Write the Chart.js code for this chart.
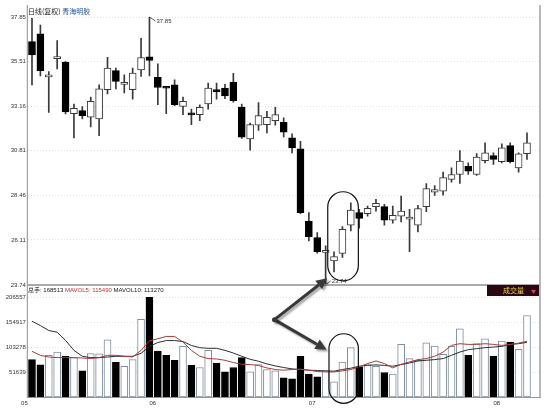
<!DOCTYPE html>
<html>
<head>
<meta charset="utf-8">
<script src="https://cdn.jsdelivr.net/npm/chart.js@4.4.1/dist/chart.umd.min.js"></script>
<style>
  body { margin: 0; background: #fff; }
  #wrap { position: relative; width: 551px; height: 412px; overflow: hidden; font-family: "Liberation Sans", "Noto Sans CJK SC", sans-serif; }
  canvas { position: absolute; left: 0; top: 0; }
  .t { position: absolute; white-space: nowrap; font-size: 6px; line-height: 8px; color: #222; }
  #volBox { position: absolute; left: 487px; top: 285px; width: 52px; height: 11px; background: #2b0810; }
  #volBox span { position: absolute; top: 1px; font-family: "Noto Sans CJK SC", sans-serif; line-height: 9px; }
</style>
</head>
<body>
<div id="wrap">
  <canvas id="priceChart" width="551" height="412"></canvas>
  <canvas id="volChart" width="551" height="412"></canvas>
  <div class="t" style="left:28px;top:7px;font-size:7px;font-family:'Noto Sans CJK SC',sans-serif">日线(复权) <span style="color:#2a55a0">青海明胶</span></div>
  <div class="t" id="volTitle" style="left:28px;top:286px"></div>
  <div id="volBox"><span style="left:16px;color:#f2d640;font-size:7px">成交量</span><span style="left:44px;color:#e0405a;font-size:5px">▼</span></div>
</div>
<script>
// 日K线 (60 个交易日)
const openP  = [36.55,36.96,34.70,35.66,35.47,32.76,32.92,32.57,32.48,34.02,35.03,34.30,34.02,35.07,35.75,34.67,34.14,34.28,33.14,32.73,32.71,33.27,33.95,34.11,34.42,33.11,31.43,32.15,32.18,32.39,32.31,31.49,30.91,27.11,26.24,25.46,25.01,25.40,26.89,27.55,27.50,27.87,27.87,27.15,27.37,27.20,26.89,27.87,28.63,28.68,29.30,29.56,29.99,29.56,30.29,30.56,30.23,31.08,29.91,30.66];
const highP  = [37.78,37.43,34.98,36.61,35.50,33.27,33.14,33.64,34.28,35.73,35.16,34.81,35.16,36.73,37.85,35.38,34.15,34.54,33.64,33.00,33.23,34.37,34.37,34.30,34.88,33.27,32.27,33.35,32.88,33.09,32.54,31.70,31.31,27.55,26.50,25.80,25.48,26.82,28.07,27.72,27.90,28.25,27.99,27.90,28.42,27.72,27.93,29.08,28.98,29.68,29.91,30.82,30.17,30.66,31.22,30.70,31.17,31.22,30.70,31.75];
const lowP   = [34.28,34.75,32.83,35.11,32.75,31.49,32.48,32.06,31.60,33.80,34.06,33.85,33.53,34.72,34.75,33.23,32.76,33.18,32.71,32.18,32.39,33.00,33.53,33.55,33.37,31.46,30.84,31.88,31.75,32.15,31.54,30.70,27.50,26.06,25.41,23.74,24.43,25.19,26.59,26.73,27.37,27.63,26.89,26.99,27.06,25.50,26.53,27.60,28.46,28.47,29.16,29.09,29.56,29.51,30.17,30.09,30.17,30.17,29.68,30.35];
const closeP = [35.85,35.02,34.77,35.77,32.85,33.04,32.66,33.41,34.07,35.16,34.46,34.34,34.90,35.71,35.56,34.14,34.10,33.23,33.41,32.70,33.09,34.11,33.92,33.70,33.44,31.52,32.18,32.66,32.57,32.71,31.78,30.96,27.55,26.29,25.50,25.50,25.24,26.67,27.69,27.25,27.78,28.04,27.15,27.41,27.63,27.32,27.76,28.81,28.77,29.39,29.56,30.26,29.73,30.47,30.70,30.35,30.96,30.23,30.65,31.22];

// 成交量 与 均量线
const volume  = [77900,66900,86700,93400,84700,82000,54700,90200,89500,118700,72400,64300,77900,160800,206557,95500,86700,76500,105000,66300,61600,96900,71000,52600,61600,82000,52600,67700,57500,54700,40400,38400,84700,47900,42400,54700,32200,73000,102400,62800,67700,64300,51400,47900,109100,80000,76500,112600,105700,88700,105000,141200,86700,110600,120800,85300,115900,113800,98900,168513];
const mavol5  = [94900,86700,83200,82000,82000,82000,81200,80000,82000,86700,86700,84700,83200,96900,116300,120800,125500,125500,113800,96900,84700,80000,79200,76500,71800,68300,67700,65700,60800,57500,56100,57500,58100,56100,53400,52600,52600,54700,57500,62800,69800,75100,69800,60800,68300,73000,77900,80000,84700,93400,107100,110600,109100,109100,110600,109100,107100,109100,111800,115490];
const mavol10 = [156700,147900,137700,134200,117300,96900,84700,82000,82000,83200,84700,84700,84700,90800,105000,113000,117000,117000,115000,107000,102400,101000,101000,96900,91400,84700,78500,74500,69000,64900,61600,58800,57500,56100,55500,54700,54100,57500,60200,64300,66000,67000,66000,64300,67700,71000,75100,76500,77900,80000,86700,93400,98300,100400,102400,103600,105100,109100,110600,113270];

// 坐标刻度
const priceTicks  = [23.74, 26.11, 28.46, 30.81, 33.16, 35.51, 37.85];
const volTicks    = [0, 51639, 103278, 154917, 206557];
const monthLabels = ['05', '06', '07', '08'];
const monthPos    = [-1.3, 14, 33, 55];

const isUp = openP.map((o, i) => closeP[i] >= o);
const tickFont = { size: 6, family: 'Liberation Sans' };
const gridColor = '#e2e2e2';

document.getElementById('volTitle').innerHTML =
  '总手: ' + volume[volume.length - 1] +
  ' <span style="color:#c0302c">MAVOL5: ' + mavol5[mavol5.length - 1] + '</span>' +
  ' MAVOL10: ' + mavol10[mavol10.length - 1];

function capsule(ctx, x0, x1, y0, y1) {
  const r = (x1 - x0) / 2;
  ctx.beginPath();
  ctx.moveTo(x0, y1 - r);
  ctx.lineTo(x0, y0 + r);
  ctx.arc(x0 + r, y0 + r, r, Math.PI, 0);
  ctx.lineTo(x1, y1 - r);
  ctx.arc(x0 + r, y1 - r, r, 0, Math.PI);
  ctx.closePath();
  ctx.stroke();
}

function arrow(ctx, x0, y0, x1, y1) {
  const a = Math.atan2(y1 - y0, x1 - x0);
  const len = 11, hw = 5.5;
  const bx = x1 - len * Math.cos(a), by = y1 - len * Math.sin(a);
  ctx.beginPath();
  ctx.moveTo(x0, y0);
  ctx.lineTo(bx, by);
  ctx.stroke();
  ctx.beginPath();
  ctx.moveTo(x1, y1);
  ctx.lineTo(bx + hw * Math.sin(a), by - hw * Math.cos(a));
  ctx.lineTo(bx - hw * Math.sin(a), by + hw * Math.cos(a));
  ctx.closePath();
  ctx.fill();
}

// 最高/最低价标注 + 价格区椭圆
const priceMarks = {
  id: 'priceMarks',
  afterDatasetsDraw(chart) {
    const { ctx, scales: { x, y } } = chart;
    const hi = Math.max(...highP), iHi = highP.indexOf(hi);
    const lo = Math.min(...lowP), iLo = lowP.indexOf(lo);
    ctx.save();
    ctx.strokeStyle = '#333';
    ctx.fillStyle = '#333';
    ctx.lineWidth = 0.8;
    ctx.font = '6px "Liberation Sans"';
    ctx.textBaseline = 'middle';
    let px = x.getPixelForValue(iHi), py = y.getPixelForValue(hi);
    ctx.beginPath(); ctx.moveTo(px, py); ctx.lineTo(px + 6, py + 4); ctx.stroke();
    ctx.fillText(hi.toFixed(2), px + 7, py + 4);
    px = x.getPixelForValue(iLo); py = y.getPixelForValue(lo);
    ctx.beginPath(); ctx.moveTo(px, py); ctx.lineTo(px + 5, py - 4); ctx.stroke();
    ctx.fillText(lo.toFixed(2), px + 6, py - 4);
    ctx.strokeStyle = '#111';
    ctx.lineWidth = 1.2;
    capsule(ctx, x.getPixelForValue(35.25), x.getPixelForValue(38.9), y.getPixelForValue(28.65), y.getPixelForValue(23.96));
    ctx.restore();
  }
};

// 边框、成交量区椭圆与箭头
const volMarks = {
  id: 'volMarks',
  afterDraw(chart) {
    const { ctx, chartArea, scales: { x, y } } = chart;
    const yp = priceChart.scales.y;
    const pArea = priceChart.chartArea;
    ctx.save();
    ctx.strokeStyle = '#8c8c8c';
    ctx.lineWidth = 1;
    ctx.beginPath(); ctx.moveTo(chartArea.left - 0.5, 5); ctx.lineTo(chartArea.left - 0.5, chartArea.bottom); ctx.stroke();
    ctx.strokeStyle = '#a0a0a0';
    ctx.lineWidth = 1.5;
    ctx.beginPath(); ctx.moveTo(chartArea.right, 5); ctx.lineTo(chartArea.right, chartArea.bottom); ctx.stroke();
    ctx.lineWidth = 2;
    ctx.strokeStyle = '#aaaaaa';
    ctx.beginPath(); ctx.moveTo(chartArea.left, pArea.bottom); ctx.lineTo(chartArea.right, pArea.bottom); ctx.stroke();

    ctx.strokeStyle = '#111';
    ctx.lineWidth = 1.2;
    capsule(ctx, x.getPixelForValue(35.4), x.getPixelForValue(38.9), y.getPixelForValue(131000), y.getPixelForValue(-12000));

    const ox = x.getPixelForValue(28.9), oy = y.getPixelForValue(160000);
    ctx.shadowColor = 'rgba(0,0,0,0.35)';
    ctx.shadowOffsetX = 2;
    ctx.shadowOffsetY = 2;
    ctx.shadowBlur = 2;
    ctx.strokeStyle = '#383838';
    ctx.fillStyle = '#383838';
    ctx.lineWidth = 3;
    arrow(ctx, ox, oy, x.getPixelForValue(35.2), yp.getPixelForValue(24.1));
    arrow(ctx, ox, oy, x.getPixelForValue(35.1), y.getPixelForValue(98000));
    ctx.beginPath(); ctx.arc(ox, oy, 2.5, 0, Math.PI * 2); ctx.fill();
    ctx.restore();
  }
};

const priceChart = new Chart(document.getElementById('priceChart'), {
  type: 'bar',
  data: {
    datasets: [
      {
        label: 'body',
        data: openP.map((o, i) => ({ x: i, y: [o, closeP[i]] })),
        backgroundColor: isUp.map(u => u ? '#ffffff' : '#000000'),
        borderColor: isUp.map(u => u ? '#3a3a3a' : '#000000'),
        borderWidth: 1,
        borderSkipped: false,
        barThickness: 7,
        minBarLength: 2,
        grouped: false
      },
      {
        label: 'wick',
        data: lowP.map((l, i) => ({ x: i, y: [l, highP[i]] })),
        backgroundColor: '#3a3a3a',
        borderWidth: 0,
        barThickness: 1,
        grouped: false
      }
    ]
  },
  options: {
    responsive: false,
    animation: false,
    devicePixelRatio: 1,
    layout: { padding: { top: 17, bottom: 127, left: 0, right: 11 } },
    plugins: { legend: { display: false }, tooltip: { enabled: false } },
    scales: {
      x: { type: 'linear', min: -0.5, max: 60.55, offset: false, display: false },
      y: {
        min: 23.74, max: 37.85,
        afterBuildTicks: s => { s.ticks = priceTicks.map(v => ({ value: v })); },
        afterFit: s => { s.width = 27.8; },
        ticks: { font: tickFont, color: '#333', padding: 2, callback: v => v.toFixed(2) },
        grid: { color: gridColor, drawTicks: false },
        border: { display: false, dash: [1, 2] }
      }
    }
  },
  plugins: [priceMarks]
});

const volChart = new Chart(document.getElementById('volChart'), {
  type: 'bar',
  data: {
    datasets: [
      {
        type: 'line', label: 'MAVOL5',
        data: mavol5.map((v, i) => ({ x: i, y: v })),
        borderColor: '#a83c3c', borderWidth: 1, pointRadius: 0, order: 0
      },
      {
        type: 'line', label: 'MAVOL10',
        data: mavol10.map((v, i) => ({ x: i, y: v })),
        borderColor: '#2e2e2e', borderWidth: 1, pointRadius: 0, order: 0
      },
      {
        label: '成交量',
        data: volume.map((v, i) => ({ x: i, y: v })),
        backgroundColor: isUp.map(u => u ? '#ffffff' : '#000000'),
        borderColor: isUp.map(u => u ? '#7f8e9c' : '#000000'),
        borderWidth: 1,
        borderSkipped: false,
        barThickness: 7,
        grouped: false,
        order: 1
      }
    ]
  },
  options: {
    responsive: false,
    animation: false,
    devicePixelRatio: 1,
    layout: { padding: { top: 297, bottom: 0, left: 0, right: 11 } },
    plugins: { legend: { display: false }, tooltip: { enabled: false } },
    scales: {
      x: {
        type: 'linear', min: -0.5, max: 60.55, offset: false,
        afterBuildTicks: s => { s.ticks = monthPos.map(v => ({ value: v })); },
        afterFit: s => { s.height = 14.5; },
        ticks: { autoSkip: false, maxRotation: 0, align: 'start', font: tickFont, color: '#333', padding: 2,
                 callback: v => monthLabels[monthPos.indexOf(v)] },
        grid: { display: false, drawTicks: false },
        border: { display: true, color: '#999' }
      },
      y: {
        min: 0, max: 206557,
        afterBuildTicks: s => { s.ticks = volTicks.map(v => ({ value: v })); },
        afterFit: s => { s.width = 27.8; },
        ticks: { font: tickFont, color: '#333', padding: 2, callback: v => v === 0 ? '' : String(v) },
        grid: { color: c => c.tick && c.tick.value === 0 ? 'rgba(0,0,0,0)' : gridColor, drawTicks: false },
        border: { display: false, dash: [1, 2] }
      }
    }
  },
  plugins: [volMarks]
});
</script>
</body>
</html>
